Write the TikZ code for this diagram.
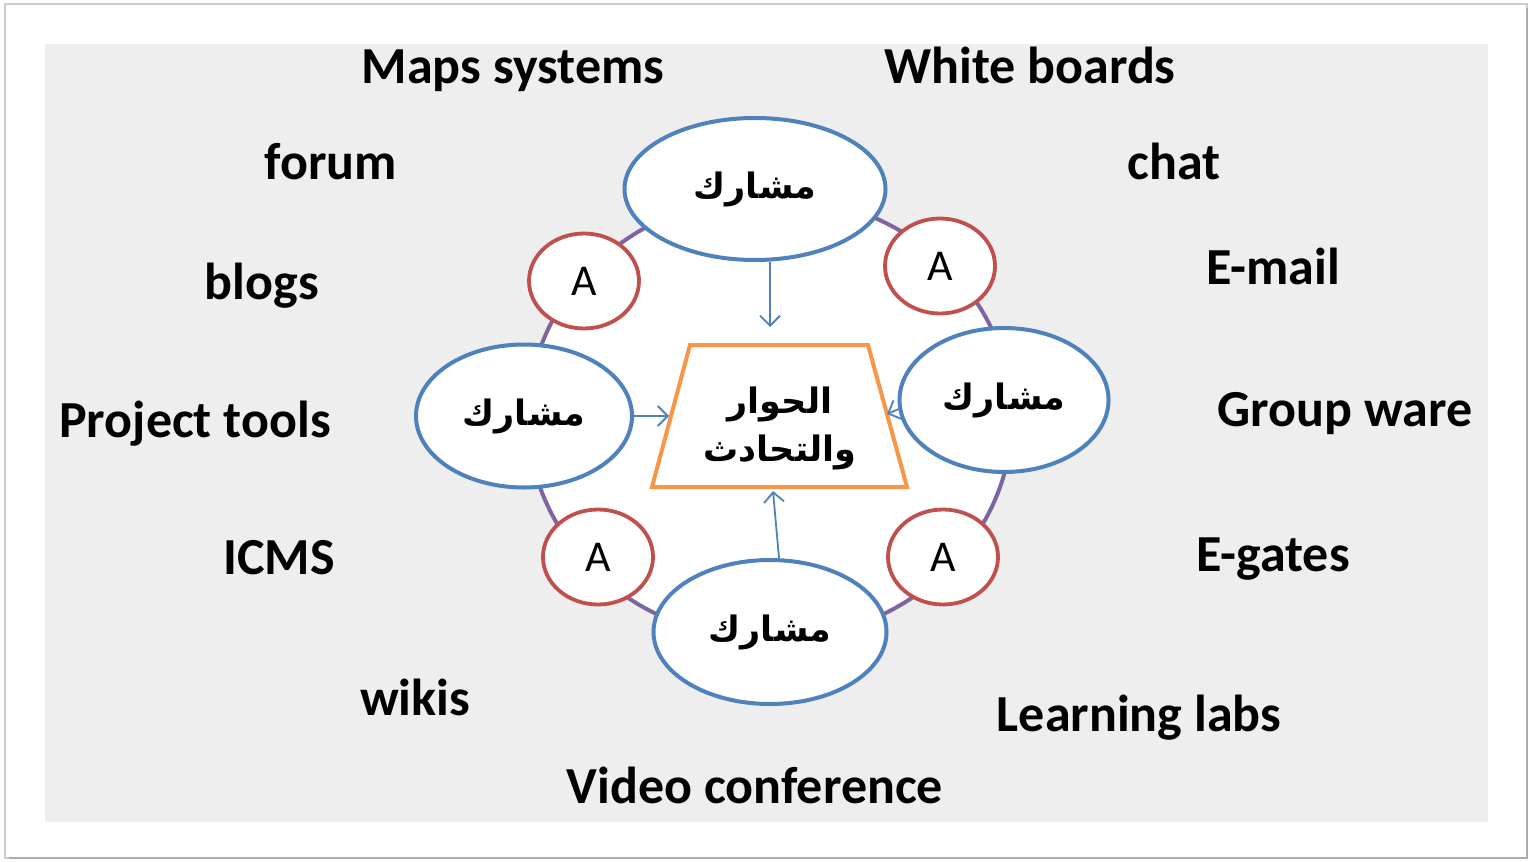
\documentclass[tikz,border=0pt]{standalone}
\usepackage{fontspec}
\setmainfont{Carlito}
\newfontfamily\arabicfont[Script=Arabic]{DejaVu Sans}
\TeXXeTstate=1
\usetikzlibrary{shapes.geometric,arrows.meta}
\definecolor{bgray}{RGB}{238,238,238}
\definecolor{eblue}{RGB}{79,129,189}
\definecolor{ared}{RGB}{192,80,77}
\definecolor{apurple}{RGB}{128,100,162}
\definecolor{aorange}{RGB}{247,150,70}
\begin{document}
\begin{tikzpicture}[x=0.5pt,y=-0.5pt]
\tikzset{
 lbl/.style={font=\bfseries\fontsize{26}{30}\selectfont, anchor=base, inner sep=0pt},
 part/.style={ellipse, draw=eblue, line width=2pt, fill=white, inner sep=0pt,
   font=\arabicfont\bfseries\fontsize{17.5}{20}\selectfont},
 acirc/.style={ellipse, draw=ared, line width=1.9pt, fill=white, minimum width=55pt,
   minimum height=47.5pt, inner sep=0pt, font=\fontsize{22}{24}\selectfont},
 arr/.style={draw=eblue, line width=0.9pt, -{Straight Barb[length=5pt,width=10pt]}},
}
\useasboundingbox (0,0) rectangle (1529,861);
\fill[white] (0,0) rectangle (1529,861);
\draw[gray!40, line width=1pt] (5,4) rectangle (1527,858);
\draw[gray!65, line width=1.3pt] (1527,8) -- (1527,858) -- (9,858);
\fill[bgray] (45,44) rectangle (1488,822);

% ring
\node[ellipse, draw=apurple, line width=2pt, fill=white, minimum width=242pt,
  minimum height=222pt, inner sep=0pt] (ring) at (770,418) {};

% participants
\node[part, minimum width=130.5pt, minimum height=71pt] (T) at (755,189) {\beginR مشارك\endR};
\node[part, minimum width=108pt, minimum height=71.5pt] (L) at (524,416) {\beginR مشارك\endR};
\node[part, minimum width=104.5pt, minimum height=72pt] (R) at (1004,400) {\beginR مشارك\endR};
\node[part, minimum width=116.5pt, minimum height=72pt] (B) at (770,632) {\beginR مشارك\endR};

% A circles
\node[acirc] (A1) at (584,281) {A};
\node[acirc] (A2) at (940,266) {A};
\node[acirc] (A3) at (598,557) {A};
\node[acirc] (A4) at (943,557) {A};

% trapezoid
\coordinate (p1) at (690,345);
\coordinate (p2) at (868,345);
\coordinate (p3) at (907,487);
\coordinate (p4) at (652,487);
\draw[aorange, line width=2pt, fill=white, line join=miter] (p1) -- (p2) -- (p3) -- (p4) -- cycle;
\node[font=\arabicfont\bfseries\fontsize{17.5}{24}\selectfont, align=center, inner sep=0pt]
  (talk) at (780,428) {\beginR الحوار\endR\\\beginR والتحادث\endR};

% arrows
\coordinate (tipT) at (770,327);
\coordinate (tipL) at (669,416);
\coordinate (tipR) at (887,414);
\coordinate (tipB) at (773,491);
\draw[arr] (T.south -| tipT) -- (tipT);
\draw[arr] (L.east) -- (tipL);
\draw[arr] (R.185) -- (tipR);
\draw[arr] ([xshift=4.5pt]B.north) -- (tipB);

% labels
\node[lbl] (l1) at (513,84) {Maps systems};
\node[lbl] (l2) at (1030,84) {White boards};
\node[lbl] (l3) at (331,180) {forum};
\node[lbl] (l4) at (1174,180) {chat};
\node[lbl] (l5) at (262,299) {blogs};
\node[lbl] (l6) at (1273,284) {E-mail};
\node[lbl] (l7) at (195,437) {Project tools};
\node[lbl] (l8) at (1345,426) {Group ware};
\node[lbl] (l9) at (279,574) {ICMS};
\node[lbl] (l10) at (1273,571) {E-gates};
\node[lbl] (l11) at (415,715) {wikis};
\node[lbl] (l12) at (1139,731) {Learning labs};
\node[lbl] (l13) at (755,803) {Video conference};
\end{tikzpicture}
\end{document}
